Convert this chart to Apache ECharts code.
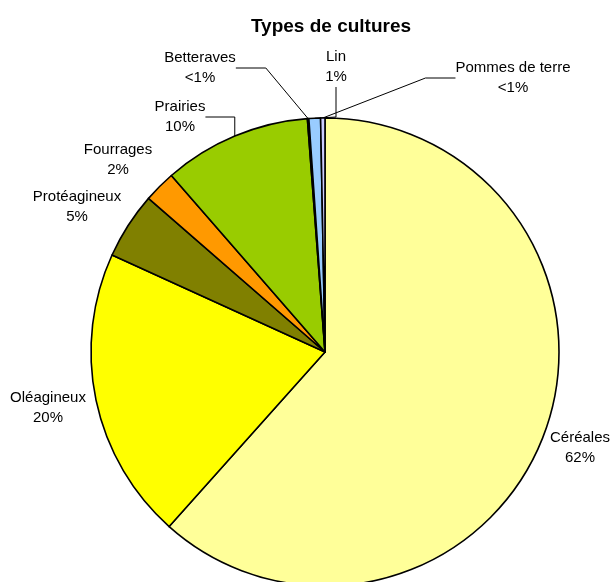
<!DOCTYPE html>
<html>
<head>
<meta charset="utf-8">
<script src="https://cdn.jsdelivr.net/npm/echarts@6/dist/echarts.min.js"></script>
<style>
  html, body { margin: 0; padding: 0; background: #fff; }
  #chart { width: 615px; height: 582px; }
</style>
</head>
<body>
<div id="chart"></div>
<script>
// Crop types, clockwise from 12 o'clock
const categories = ['Céréales', 'Oléagineux', 'Protéagineux', 'Fourrages', 'Prairies', 'Betteraves', 'Lin', 'Pommes de terre'];
// Share of cultivated area, in percent
const shares = [61.6, 20.2, 4.6, 2.2, 10.2, 0.1, 0.8, 0.3];
const colors = ['#FFFF99', '#FFFF00', '#808000', '#FF9900', '#99CC00', '#336600', '#99CCFF', '#CCCCFF'];
// Which labels are tied to their slice with a leader line
const withLeader = [false, false, false, false, true, true, true, true];
// Label anchor points (centre of the two-line label)
const labelAnchors = [
  [580, 448], [48, 408], [77, 207], [118, 160],
  [180, 117], [200, 68], [336, 67], [513, 78]
];

const total = shares.reduce((a, b) => a + b, 0);
function pctText(v) {
  const p = v / total * 100;
  return p < 0.5 ? '<1%' : Math.round(p) + '%';
}

const chart = echarts.init(document.getElementById('chart'), null, { renderer: 'canvas' });
chart.setOption({
  animation: false,
  backgroundColor: '#ffffff',
  title: {
    text: 'Types de cultures',
    left: 326,
    top: 12,
    textAlign: 'center',
    textStyle: { fontFamily: 'Liberation Sans, Arial, sans-serif', fontSize: 19, fontWeight: 'bold', color: '#000' }
  },
  series: [{
    type: 'pie',
    center: [325, 352],
    radius: 234,
    startAngle: 90,
    clockwise: true,
    avoidLabelOverlap: false,
    minShowLabelAngle: 0,
    itemStyle: { borderColor: '#000', borderWidth: 1.6 },
    label: {
      show: true,
      position: 'outside',
      formatter: p => p.name + '\n' + pctText(p.value),
      fontFamily: 'Liberation Sans, Arial, sans-serif',
      fontSize: 15,
      lineHeight: 20,
      color: '#000',
      align: 'center'
    },
    labelLine: { show: true, smooth: false, lineStyle: { color: '#000', width: 1 } },
    labelLayout: params => ({
      x: labelAnchors[params.dataIndex][0],
      y: labelAnchors[params.dataIndex][1],
      align: 'center',
      verticalAlign: 'middle'
    }),
    emphasis: { disabled: true },
    data: categories.map((name, i) => ({
      name,
      value: shares[i],
      itemStyle: { color: colors[i] },
      labelLine: { show: withLeader[i] }
    }))
  }]
});
</script>
</body>
</html>
